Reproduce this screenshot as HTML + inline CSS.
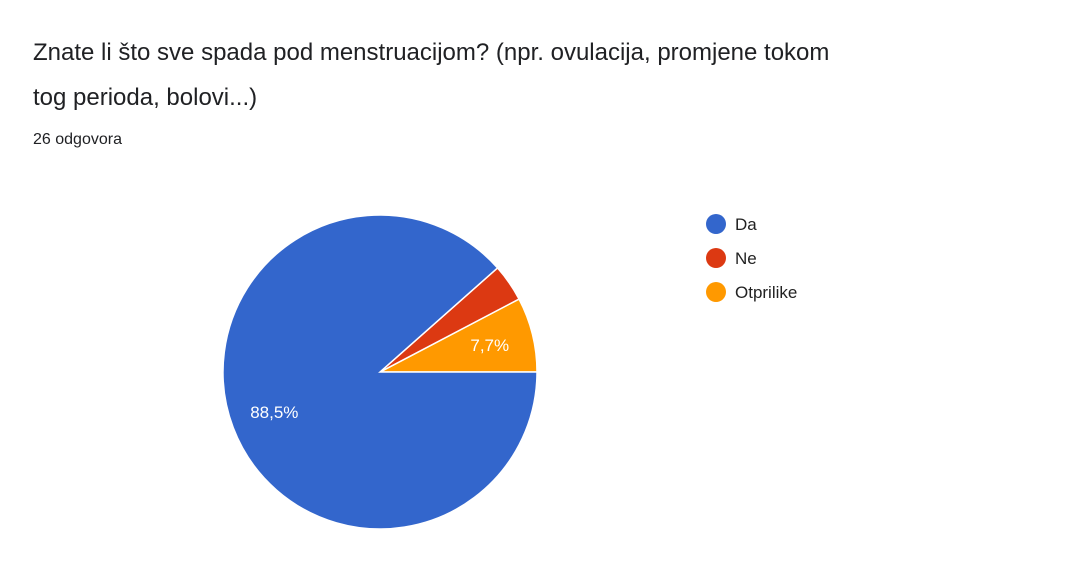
<!DOCTYPE html>
<html><head><meta charset="utf-8"><style>
body{margin:0;width:1084px;height:586px;background:#fff;font-family:"Liberation Sans",Arial,sans-serif;overflow:hidden}
.t{position:absolute;left:33px;top:30px;font-size:24px;line-height:45px;color:#202124;width:1000px}
.s{position:absolute;left:33px;top:131px;font-size:16px;color:#202124}
</style></head><body>
<div class="t">Znate li što sve spada pod menstruacijom? (npr. ovulacija, promjene tokom<br>tog perioda, bolovi...)</div>
<div class="s">26 odgovora</div>
<svg id="c" width="1084" height="586" style="position:absolute;left:0;top:0"></svg>
<script>
const categories=["Da","Ne","Otprilike"];
const values=[23,1,2];
const colors=["#3366cc","#dc3912","#ff9900"];
const svg=document.getElementById('c');
const NS="http://www.w3.org/2000/svg";
const cx=380,cy=372,r=157;
const total=values.reduce((a,b)=>a+b,0);
// draw counterclockwise from 3 o'clock, last category first
let a=0;
const order=[2,1,0];
order.forEach(i=>{
  const frac=values[i]/total, a2=a+frac*2*Math.PI;
  const x1=cx+r*Math.cos(a),y1=cy-r*Math.sin(a),x2=cx+r*Math.cos(a2),y2=cy-r*Math.sin(a2);
  const p=document.createElementNS(NS,'path');
  p.setAttribute('d',`M${cx},${cy}L${x1},${y1}A${r},${r} 0 ${frac>0.5?1:0} 0 ${x2},${y2}Z`);
  p.setAttribute('fill',colors[i]);p.setAttribute('stroke','#fff');p.setAttribute('stroke-width','1.5');
  
  
  svg.appendChild(p);
  if(frac>0.05){
    const m=(a+a2)/2,lr=r*0.72;
    const t=document.createElementNS(NS,'text');
    t.setAttribute('x',cx+lr*Math.cos(m));t.setAttribute('y',cy-lr*Math.sin(m)+6);
    t.setAttribute('text-anchor','middle');t.setAttribute('fill','#fff');t.setAttribute('font-size','17');
    t.setAttribute('font-family','Liberation Sans, Arial, sans-serif');
    t.textContent=(frac*100).toFixed(1).replace('.',',')+'%';
    
    
    svg.appendChild(t);
  }
  a=a2;
});
categories.forEach((c,i)=>{
  const g=document.createElementNS(NS,'g');
  
  
  const ci=document.createElementNS(NS,'circle');
  ci.setAttribute('cx',716);ci.setAttribute('cy',224+i*34);ci.setAttribute('r',10);ci.setAttribute('fill',colors[i]);
  const t=document.createElementNS(NS,'text');
  t.setAttribute('x',735);t.setAttribute('y',230+i*34);t.setAttribute('font-size','17');t.setAttribute('fill','#222');
  t.setAttribute('font-family','Liberation Sans, Arial, sans-serif');
  t.textContent=c;
  g.appendChild(ci);g.appendChild(t);svg.appendChild(g);
});
</script>
</body></html>
